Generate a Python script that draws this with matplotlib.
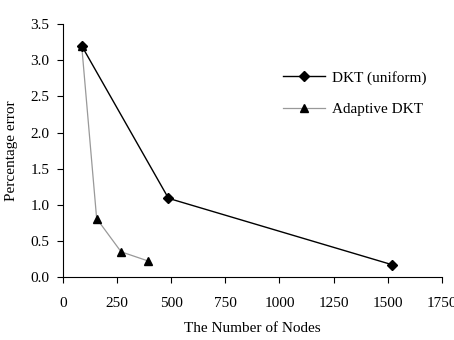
import matplotlib
matplotlib.use("Agg")
import matplotlib.pyplot as plt
from matplotlib.ticker import FormatStrFormatter

# data
uniform_nodes = [86, 487, 1522]
uniform_err = [3.2, 1.09, 0.17]
adaptive_nodes = [86, 155, 268, 391]
adaptive_err = [3.2, 0.81, 0.35, 0.225]

plt.rcParams['font.family'] = ['Liberation Serif', 'DejaVu Serif']

fig = plt.figure(figsize=(4.54, 3.4), dpi=100)
ax = fig.add_axes([0.139, 0.185, 0.834, 0.744])

ax.plot(uniform_nodes, uniform_err, color='black', lw=1.0, marker='D',
        markersize=5.5, label='DKT (uniform)', zorder=3)
ax.plot(adaptive_nodes, adaptive_err, color='#999999', lw=0.9, marker='^',
        markersize=5.5, markerfacecolor='black', markeredgecolor='black',
        label='Adaptive DKT', zorder=2)

ax.set_xlim(0, 1750)
ax.set_ylim(0, 3.5)
ax.set_xticks(range(0, 1751, 250))
ax.set_yticks([0, 0.5, 1.0, 1.5, 2.0, 2.5, 3.0, 3.5])
ax.yaxis.set_major_formatter(FormatStrFormatter('%.1f'))
ax.tick_params(labelsize=11, direction='out', length=4, width=0.8, pad=10)
ax.tick_params(axis='y', pad=6)

for s in ['top', 'right']:
    ax.spines[s].set_visible(False)

ax.set_xlabel("The Number of Nodes", fontsize=11, labelpad=9)
ax.set_ylabel("Percentage error", fontsize=11, labelpad=9)

ax.legend(loc='upper right', bbox_to_anchor=(0.995, 0.87), frameon=False,
          fontsize=11, handlelength=2.8, handletextpad=0.4, labelspacing=1.15)

fig.savefig("out.png", dpi=100)
